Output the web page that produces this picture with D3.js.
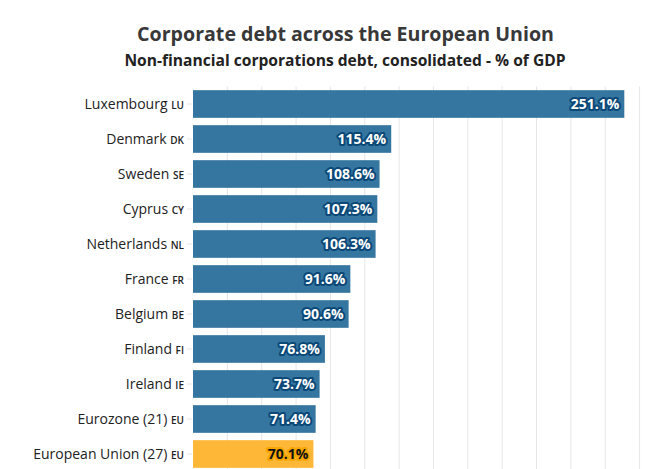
<!DOCTYPE html>
<html>
<head>
<meta charset="utf-8">
<script src="https://cdn.jsdelivr.net/npm/d3@7"></script>
<style>
  body { margin: 0; background: #fff; }
  svg { font-family: "Open Sans", sans-serif; display: block; }
</style>
</head>
<body>
<div id="chart"></div>
<script>
// Non-financial corporations debt, consolidated (% of GDP)
const countries = [
    "Luxembourg", "Denmark", "Sweden", "Cyprus", "Netherlands", "France",
    "Belgium", "Finland", "Ireland", "Eurozone (21)", "European Union (27)"
];
const codes = ["LU", "DK", "SE", "CY", "NL", "FR", "BE", "FI", "IE", "EU", "EU"];
const values = [251.1, 115.4, 108.6, 107.3, 106.3, 91.6, 90.6, 76.8, 73.7, 71.4, 70.1];
const xTicks = [0, 20, 40, 60, 80, 100, 120, 140, 160, 180, 200, 220, 240, 260];

const rows = countries.map((c, i) => ({ name: c, code: codes[i], value: values[i], highlight: c.startsWith("European Union") }));

const width = 656;
const height = 469;
const margin = { top: 86.5, right: 16.4, bottom: -2.5, left: 193 };

const svg = d3.select("#chart")
    .append("svg")
    .attr("width", width)
    .attr("height", height);

const x = d3.scaleLinear()
    .domain([0, 260])
    .range([margin.left, width - margin.right]);

const y = d3.scaleBand()
    .domain(countries)
    .range([margin.top, height - margin.bottom])
    .paddingInner(0.21)
    .paddingOuter(0.105);

// vertical gridlines
svg.append("g")
    .selectAll("line")
    .data(xTicks.slice(1))
    .enter().append("line")
    .attr("x1", d => x(d)).attr("x2", d => x(d))
    .attr("y1", margin.top).attr("y2", height)
    .attr("stroke", "#e6e6e6")
    .attr("stroke-width", 1);

// bars
svg.selectAll(".bar")
    .data(rows)
    .enter().append("rect")
    .attr("class", "bar")
    .attr("x", x(0))
    .attr("y", d => y(d.name))
    .attr("width", d => x(d.value) - x(0))
    .attr("height", y.bandwidth())
    .attr("fill", d => d.highlight ? "#ffb32d" : "#2a6f9b")
    .attr("fill-opacity", 0.95);

// value labels
svg.selectAll(".val")
    .data(rows)
    .enter().append("text")
    .attr("class", "val")
    .attr("x", d => x(d.value) - 5)
    .attr("y", d => y(d.name) + y.bandwidth() / 2)
    .attr("dy", "0.36em")
    .attr("text-anchor", "end")
    .style("font-size", "14px")
    .style("font-weight", "bold")
    .style("paint-order", "stroke")
    .attr("stroke", d => d.highlight ? "#f7a600" : "#0b4877")
    .attr("stroke-width", 4)
    .attr("stroke-linejoin", "round")
    .attr("fill", d => d.highlight ? "#111" : "#fff")
    .text(d => d.value.toFixed(1) + "%");

// y axis: ticks and labels
const yAxis = svg.append("g");
yAxis.selectAll("line")
    .data(rows)
    .enter().append("line")
    .attr("x1", margin.left - 6).attr("x2", margin.left - 1)
    .attr("y1", d => y(d.name) + y.bandwidth() / 2)
    .attr("y2", d => y(d.name) + y.bandwidth() / 2)
    .attr("stroke", "#e6e6e6")
    .attr("stroke-width", 1);

const labels = yAxis.selectAll("text")
    .data(rows)
    .enter().append("text")
    .attr("x", margin.left - 9)
    .attr("y", d => y(d.name) + y.bandwidth() / 2)
    .attr("dy", "0.36em")
    .attr("text-anchor", "end")
    .attr("fill", "#222")
    .style("font-size", "14px");
labels.append("tspan").text(d => d.name + " ");
labels.append("tspan")
    .style("font-size", "10px")
    .style("font-weight", "600")
    .text(d => d.code);

// titles
svg.append("text")
    .attr("x", 345.5)
    .attr("y", 41)
    .attr("text-anchor", "middle")
    .attr("fill", "#383838")
    .style("font-size", "19.6px")
    .style("font-weight", "bold")
    .text("Corporate debt across the European Union");

svg.append("text")
    .attr("x", 345)
    .attr("y", 65.5)
    .attr("text-anchor", "middle")
    .attr("fill", "#222")
    .style("font-size", "15.6px")
    .style("font-weight", "bold")
    .text("Non-financial corporations debt, consolidated - % of GDP");
</script>
</body>
</html>
